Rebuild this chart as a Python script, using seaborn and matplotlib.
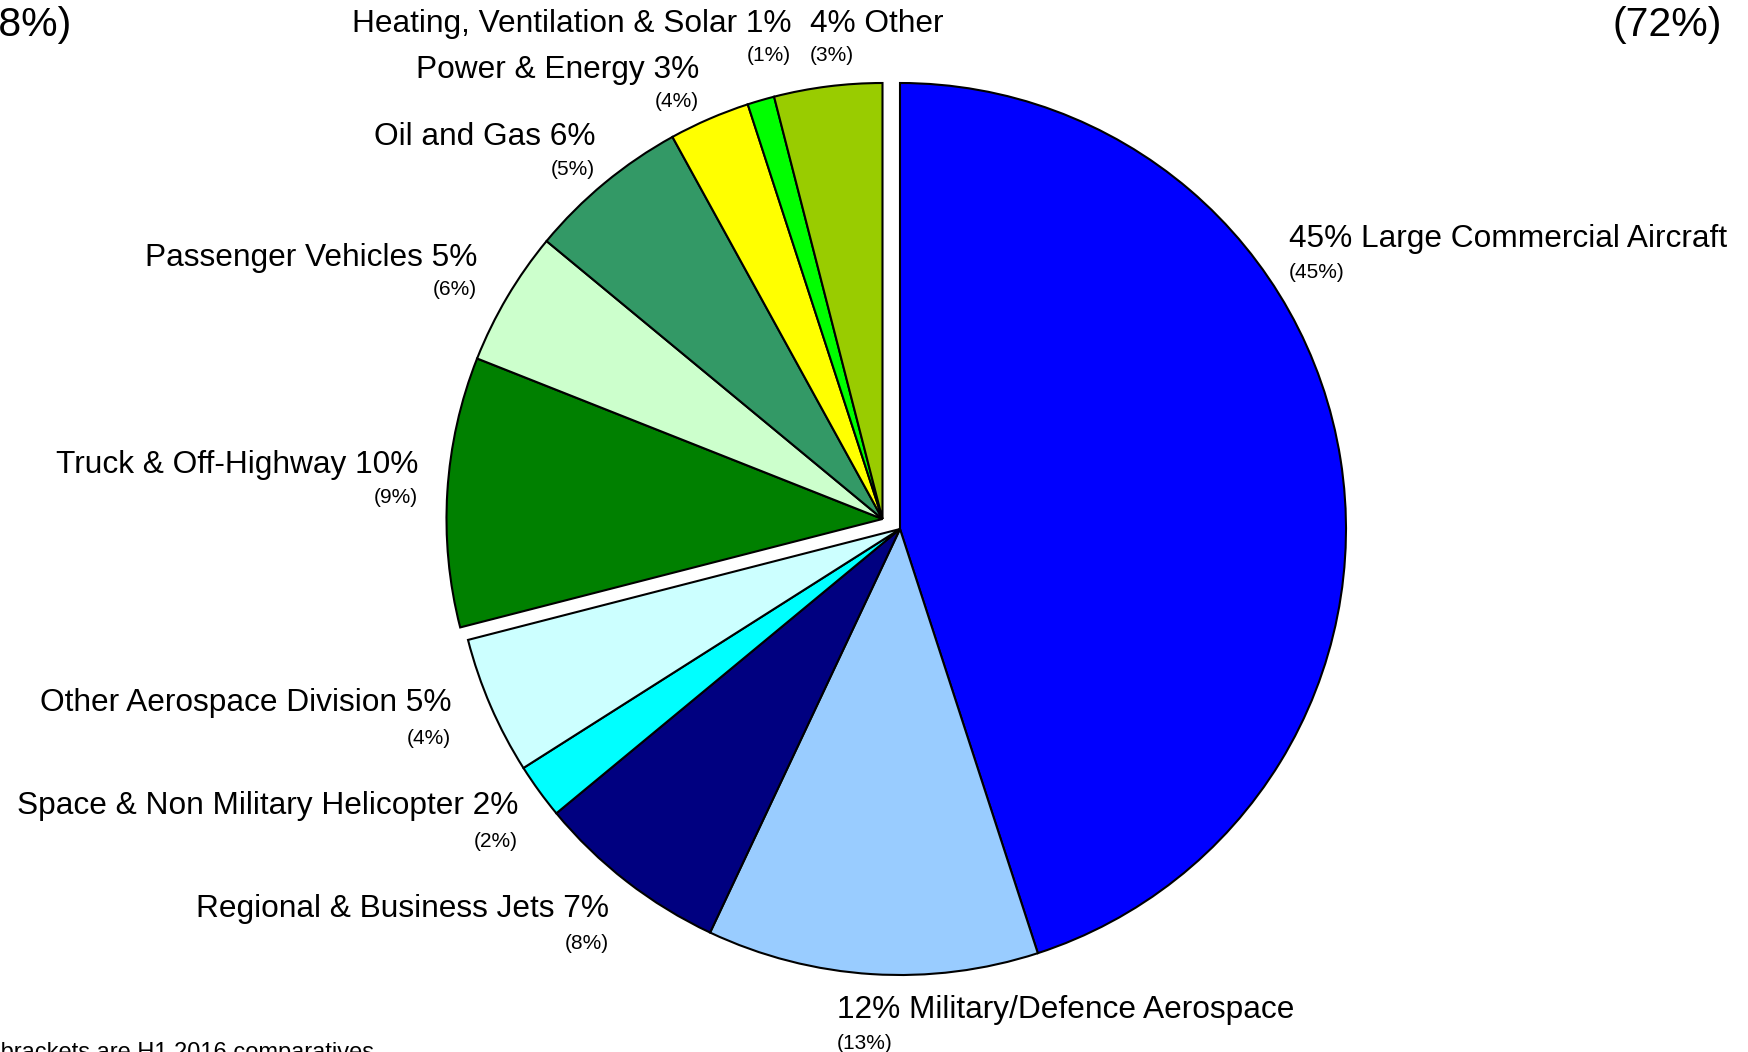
import matplotlib
matplotlib.use("Agg")
import matplotlib.pyplot as plt
import seaborn as sns
import pandas as pd

# Revenue split by market segment (H1 2017, with H1 2016 in brackets)
segments = [
    "Large Commercial Aircraft",
    "Military/Defence Aerospace",
    "Regional & Business Jets",
    "Space & Non Military Helicopter",
    "Other Aerospace Division",
    "Truck & Off-Highway",
    "Passenger Vehicles",
    "Oil and Gas",
    "Power & Energy",
    "Heating, Ventilation & Solar",
    "Other",
]
share_current = [45, 12, 7, 2, 5, 10, 5, 6, 3, 1, 4]
share_prior = [45, 13, 8, 2, 4, 9, 6, 5, 4, 1, 3]
division = ["Aerospace"] * 5 + ["Non-Aerospace"] * 6
colours = [
    "#0000FF", "#99CCFF", "#000080", "#00FFFF", "#CCFFFF",
    "#008000", "#CCFFCC", "#339966", "#FFFF00", "#00FF00", "#99CC00",
]

df = pd.DataFrame({
    "segment": segments,
    "current": share_current,
    "prior": share_prior,
    "division": division,
    "colour": colours,
})

sns.set_theme(style="white")
plt.rcParams["font.family"] = ["Liberation Sans", "DejaVu Sans"]

W, H = 1748, 1052
fig = plt.figure(figsize=(W / 100, H / 100), dpi=100)
ax = fig.add_axes([0, 0, 1, 1])


def Y(py):
    """Convert a top-down pixel row to the axes' upward y coordinate."""
    return H - py


centre = (900, Y(529))
radius = 446
# the non-aerospace block is pulled out as one piece, drawn slightly smaller
offset = (-17.5, 10)
radius_pulled = 436

wedges, _ = ax.pie(
    df["current"],
    colors=df["colour"],
    startangle=90,
    counterclock=False,
    radius=radius,
    center=centre,
    wedgeprops=dict(edgecolor="black", linewidth=1.5, joinstyle="miter"),
)
for w, grp in zip(wedges, df["division"]):
    if grp == "Non-Aerospace":
        w.set_center((centre[0] + offset[0], centre[1] + offset[1]))
        w.set_radius(radius_pulled)

ax.set_xlim(0, W)
ax.set_ylim(0, H)
ax.set_aspect("auto")
ax.axis("off")

BIG = 22.8
SMALL = 15

# label anchors: x, baseline of main line, baseline of bracket line, alignment
anchors = {
    "Large Commercial Aircraft": (1289, 247, 278, "left"),
    "Military/Defence Aerospace": (837, 1018, 1049, "left"),
    "Regional & Business Jets": (609, 917, 949, "right"),
    "Space & Non Military Helicopter": (518, 814, 847, "right"),
    "Other Aerospace Division": (451, 711, 744, "right"),
    "Truck & Off-Highway": (418, 473, 503, "right"),
    "Passenger Vehicles": (477, 266, 295, "right"),
    "Oil and Gas": (595, 145, 175, "right"),
    "Power & Energy": (699, 78, 107, "right"),
    "Heating, Ventilation & Solar": (791, 32, 61, "right"),
    "Other": (810, 32, 61, "left"),
}

for _, row in df.iterrows():
    x, yb, ys, ha = anchors[row["segment"]]
    if ha == "left":
        main = f"{row['current']}% {row['segment']}"
    else:
        main = f"{row['segment']} {row['current']}%"
    ax.text(x, Y(yb), main, ha=ha, va="baseline", fontsize=BIG, color="black")
    ax.text(x, Y(ys), f"({row['prior']}%)", ha=ha, va="baseline",
            fontsize=SMALL, color="black")

# division totals for the comparative period
totals_prior = df.groupby("division")["prior"].sum()
ax.text(1722, Y(36), f"({totals_prior['Aerospace']}%)", ha="right",
        va="baseline", fontsize=29.5, color="black")
ax.text(72, Y(36), f"({totals_prior['Non-Aerospace']}%)", ha="right",
        va="baseline", fontsize=29.5, color="black")

ax.text(374, Y(1059), "Figures in brackets are H1 2016 comparatives",
        ha="right", va="baseline", fontsize=17, color="black")

fig.savefig("out.png", dpi=100, facecolor="white")
